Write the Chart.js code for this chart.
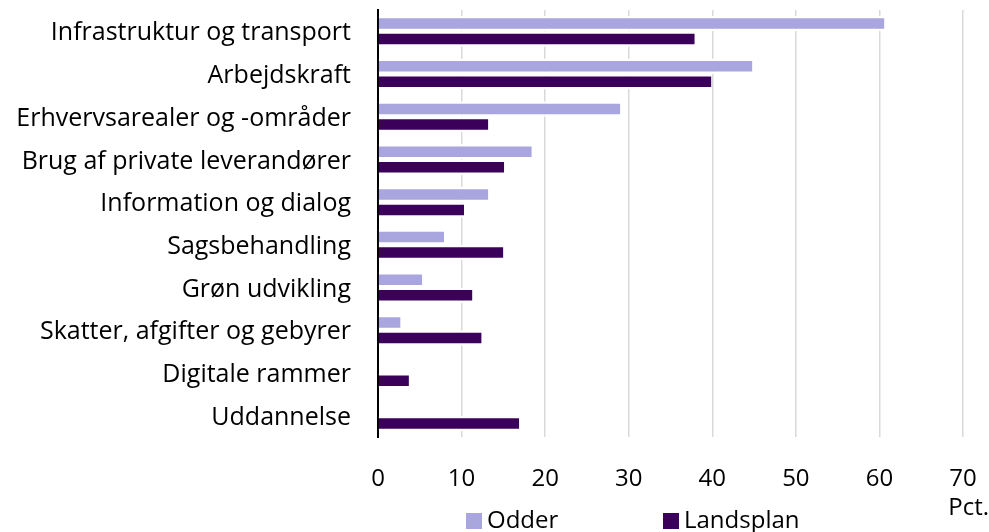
<!DOCTYPE html>
<html>
<head>
<meta charset="utf-8">
<script src="https://cdn.jsdelivr.net/npm/chart.js@4.4.0/dist/chart.umd.min.js"></script>
<style>
  html, body { margin: 0; padding: 0; background: #fff; }
  #wrap { width: 989px; height: 532px; }
</style>
</head>
<body>
<div id="wrap"><canvas id="myChart" width="989" height="532"></canvas></div>
<script>
const categories = [
  "Infrastruktur og transport",
  "Arbejdskraft",
  "Erhvervsarealer og -områder",
  "Brug af private leverandører",
  "Information og dialog",
  "Sagsbehandling",
  "Grøn udvikling",
  "Skatter, afgifter og gebyrer",
  "Digitale rammer",
  "Uddannelse"
];
const odder = [60.6, 44.8, 29.0, 18.4, 13.2, 7.9, 5.3, 2.7, 0, 0];
const landsplan = [37.9, 39.9, 13.2, 15.1, 10.3, 15.0, 11.3, 12.4, 3.7, 16.9];
const xTicks = [0, 10, 20, 30, 40, 50, 60, 70];
const seriesNames = ["Odder", "Landsplan"];
const colors = ["#a9a5df", "#3b0059"];

const FONT = "'Open Sans', Lato, sans-serif";

// legend + unit label drawn by hand to get Excel-like placement
const extras = {
  id: "extras",
  afterDraw(chart) {
    const ctx = chart.ctx;
    ctx.save();
    ctx.font = "24px " + FONT;
    ctx.fillStyle = "#000";
    ctx.textBaseline = "middle";
    ctx.textAlign = "right";
    ctx.fillText("Pct.", 989, 508);
    ctx.textAlign = "left";
    const items = [466, 663];
    chart.data.datasets.forEach((ds, i) => {
      const x = items[i];
      ctx.fillStyle = ds.backgroundColor;
      ctx.fillRect(x, 513, 16, 16);
      ctx.fillStyle = "#000";
      ctx.fillText(ds.label, x + 21, 521);
    });
    ctx.restore();
  }
};

const ctx = document.getElementById("myChart").getContext("2d");
const chart = new Chart(ctx, {
  type: "bar",
  data: {
    labels: categories,
    datasets: [
      { label: seriesNames[0], data: odder, backgroundColor: colors[0] },
      { label: seriesNames[1], data: landsplan, backgroundColor: colors[1] }
    ].map(d => Object.assign(d, {
      borderColor: "#ffffff",
      borderWidth: { top: 2.5, bottom: 2.5, left: 0, right: 0 },
      borderSkipped: false,
      categoryPercentage: 0.726,
      barPercentage: 1
    }))
  },
  options: {
    indexAxis: "y",
    responsive: false,
    animation: false,
    layout: { padding: { top: 10, right: 26, left: 0, bottom: 0 } },
    plugins: { legend: { display: false }, tooltip: { enabled: false } },
    scales: {
      x: {
        min: 0,
        max: 70,
        afterBuildTicks: (s) => { s.ticks = xTicks.map(v => ({ value: v })); },
        afterFit: (s) => { s.height = 95; s.paddingLeft = 0; s.paddingRight = 0; },
        grid: { color: "#d9d9d9", lineWidth: 1.5, drawTicks: false },
        border: { display: false },
        ticks: { color: "#000", font: { family: FONT, size: 24 }, padding: 28 }
      },
      y: {
        afterFit: (s) => { s.width = 378; s.paddingTop = 0; s.paddingBottom = 0; },
        grid: { display: false, drawTicks: false },
        border: { color: "#000", width: 2 },
        ticks: { color: "#000", font: { family: FONT, size: 25 }, padding: 27, labelOffset: 2 }
      }
    }
  },
  plugins: [extras]
});
</script>
</body>
</html>
